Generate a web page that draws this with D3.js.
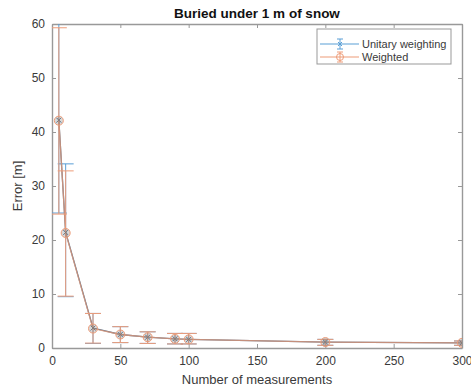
<!DOCTYPE html>
<html><head><meta charset="utf-8">
<script src="https://cdn.jsdelivr.net/npm/d3@7"></script>
<style>body{margin:0;background:#fff}svg{display:block}text{font-family:"Liberation Sans",Arial,sans-serif}</style>
</head><body><svg id="c" width="471" height="388"></svg>
<script>
const nMeas = [5, 10, 30, 50, 70, 90, 100, 200, 300];
const unitaryMean = [42.2, 21.4, 3.7, 2.5, 2.0, 1.7, 1.6, 1.1, 0.95];
const unitaryLow  = [25.0, 9.5, 0.85, 1.0, 0.85, 0.75, 0.75, 0.5, 0.5];
const unitaryHigh = [62.0, 34.1, 6.4, 3.95, 3.0, 2.7, 2.7, 1.6, 1.3];
const weightedMean = [42.1, 21.3, 3.6, 2.5, 2.0, 1.7, 1.6, 1.1, 0.95];
const weightedLow  = [24.8, 9.6, 0.9, 1.0, 0.85, 0.75, 0.75, 0.5, 0.5];
const weightedHigh = [59.3, 32.8, 6.4, 3.95, 3.0, 2.7, 2.7, 1.6, 1.3];
const xTicks = [0, 50, 100, 150, 200, 250, 300];
const yTicks = [0, 10, 20, 30, 40, 50, 60];
const seriesNames = ["Unitary weighting", "Weighted"];

const blue = "#5a9fd6", orange = "#ee9c78";
const svg = d3.select("#c");
const L = 52, R = 462, T = 24, B = 348;
const x = d3.scaleLinear().domain([0, 300]).range([L, R]);
const y = d3.scaleLinear().domain([0, 60]).range([B, T]);
const axisCol = "#999", txtCol = "#3a3a3a";

svg.append("defs").append("clipPath").attr("id", "clip")
  .append("rect").attr("x", L).attr("y", T).attr("width", R - L).attr("height", B - T);

const ax = svg.append("g").attr("transform", `translate(0,${B})`)
  .call(d3.axisBottom(x).tickValues(xTicks).tickSizeInner(-4).tickSizeOuter(0).tickPadding(8));
const ay = svg.append("g").attr("transform", `translate(${L},0)`)
  .call(d3.axisLeft(y).tickValues(yTicks).tickSizeInner(-4).tickSizeOuter(0).tickPadding(7));
const axt = svg.append("g").attr("transform", `translate(0,${T})`)
  .call(d3.axisTop(x).tickValues(xTicks).tickSizeInner(-4).tickSizeOuter(0).tickFormat(""));
const ayr = svg.append("g").attr("transform", `translate(${R},0)`)
  .call(d3.axisRight(y).tickValues(yTicks).tickSizeInner(-4).tickSizeOuter(0).tickFormat(""));
[ax, ay, axt, ayr].forEach(g => {
  g.select(".domain").attr("stroke", axisCol).attr("stroke-width", 1.4);
  g.selectAll(".tick line").attr("stroke", axisCol);
  g.selectAll(".tick text").attr("fill", txtCol).attr("font-size", 12).style("font-family", '"Liberation Sans",Arial,sans-serif');
});

const plot = svg.append("g").attr("clip-path", "url(#clip)");
function series(mean, lo, hi, col, lineCol, lineOpacity) {
  const g = plot.append("g");
  const d = nMeas.map((n, i) => ({ n, m: mean[i], lo: lo[i], hi: hi[i] }));
  g.selectAll("line.v").data(d).join("line")
    .attr("x1", e => x(e.n)).attr("x2", e => x(e.n))
    .attr("y1", e => y(e.lo)).attr("y2", e => y(e.hi))
    .attr("stroke", col).attr("stroke-width", 1);
  ["lo", "hi"].forEach(k => {
    g.selectAll("line.c" + k).data(d).join("line")
      .attr("x1", e => x(e.n) - 8).attr("x2", e => x(e.n) + 8)
      .attr("y1", e => y(e[k])).attr("y2", e => y(e[k]))
      .attr("stroke", col).attr("stroke-width", 1);
  });
  g.append("path").datum(d)
    .attr("d", d3.line().x(e => x(e.n)).y(e => y(e.m)))
    .attr("fill", "none").attr("stroke", lineCol).attr("stroke-width", 1.3).attr("opacity", lineOpacity);
  return { g, d };
}
const s1 = series(unitaryMean, unitaryLow, unitaryHigh, blue, "#4a6a88", 1);
const s2 = series(weightedMean, weightedLow, weightedHigh, orange, orange, 0.75);
s1.g.selectAll("path.x").data(s1.d).join("path")
  .attr("d", e => { const cx = x(e.n), cy = y(e.m), r = 2.5; return `M${cx-r},${cy-r}L${cx+r},${cy+r}M${cx-r},${cy+r}L${cx+r},${cy-r}`; })
  .attr("stroke", blue).attr("stroke-width", 1);
s2.g.selectAll("circle").data(s2.d).join("circle")
  .attr("cx", e => x(e.n)).attr("cy", e => y(e.m)).attr("r", 4.5)
  .attr("fill", "rgba(130,130,130,0.3)").attr("stroke", orange).attr("stroke-width", 1);
plot.selectAll("path.x2").data(s1.d).join("path")
  .attr("d", e => { const cx = x(e.n), cy = y(e.m), r = 2.2; return `M${cx-r},${cy-r}L${cx+r},${cy+r}M${cx-r},${cy+r}L${cx+r},${cy-r}`; })
  .attr("stroke", "#777").attr("stroke-width", 0.8);

svg.append("text").attr("x", 257).attr("y", 18).attr("text-anchor", "middle")
  .attr("font-size", 13.5).attr("font-weight", "bold").attr("fill", "#111").text("Buried under 1 m of snow");
svg.append("text").attr("x", 257).attr("y", 384).attr("text-anchor", "middle")
  .attr("font-size", 13).attr("fill", txtCol).text("Number of measurements");
svg.append("text").attr("transform", "translate(22,186) rotate(-90)").attr("text-anchor", "middle")
  .attr("font-size", 13).attr("fill", txtCol).text("Error [m]");

const lg = svg.append("g");
lg.append("rect").attr("x", 317).attr("y", 29).attr("width", 134).attr("height", 35)
  .attr("fill", "#fff").attr("stroke", axisCol).attr("stroke-width", 1);
const cols = [blue, orange];
seriesNames.forEach((name, i) => {
  const yy = 44 + i * 13;
  lg.append("line").attr("x1", 320).attr("x2", 359).attr("y1", yy).attr("y2", yy).attr("stroke", cols[i]).attr("stroke-width", 1.2);
  lg.append("line").attr("x1", 340).attr("x2", 340).attr("y1", yy - 5).attr("y2", yy + 5).attr("stroke", cols[i]);
  lg.append("line").attr("x1", 337).attr("x2", 343).attr("y1", yy - 5).attr("y2", yy - 5).attr("stroke", cols[i]);
  lg.append("line").attr("x1", 337).attr("x2", 343).attr("y1", yy + 5).attr("y2", yy + 5).attr("stroke", cols[i]);
  if (i === 0) {
    lg.append("path").attr("d", `M338,${yy-2}L342,${yy+2}M338,${yy+2}L342,${yy-2}`).attr("stroke", cols[i]);
  } else {
    lg.append("circle").attr("cx", 340).attr("cy", yy).attr("r", 3.5).attr("fill", "none").attr("stroke", cols[i]);
  }
  lg.append("text").attr("x", 362).attr("y", yy + 4).attr("font-size", 11).attr("fill", txtCol).text(name);
});
</script></body></html>
